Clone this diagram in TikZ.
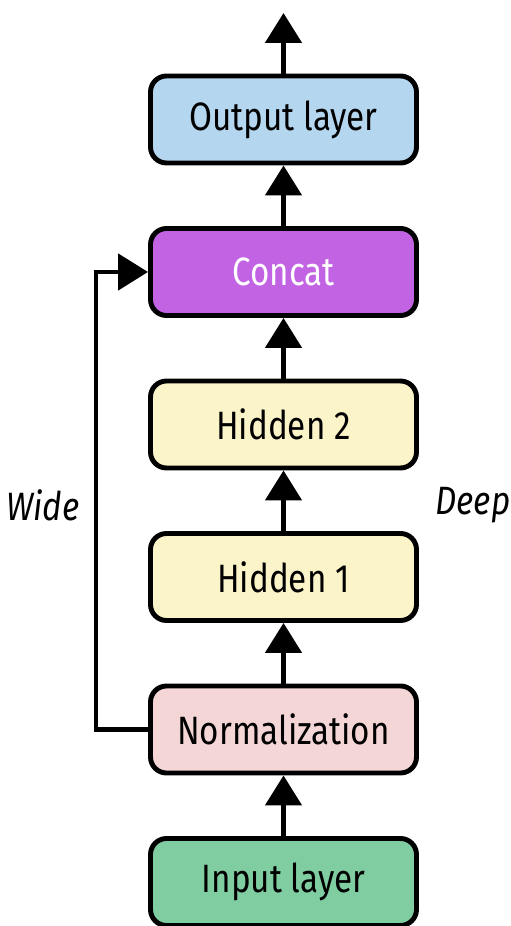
\documentclass[tikz,border=0pt]{standalone}
\usepackage{fontspec}
\setmainfont{Fira Sans}[FakeStretch=0.84]
\usetikzlibrary{arrows.meta}

\definecolor{outblue}{HTML}{B5D6EF}
\definecolor{concatpurple}{HTML}{C263E4}
\definecolor{hiddenyellow}{HTML}{FBF4C9}
\definecolor{normpink}{HTML}{F5D6D6}
\definecolor{inputgreen}{HTML}{80CDA2}

\tikzset{
  layer/.style={draw=black, line width=2.8pt, rounded corners=0.32cm,
    minimum width=5.32cm, minimum height=1.74cm,
    font=\fontsize{22.5}{26}\selectfont},
  arr/.style={line width=2.8pt,
    -{Triangle[width=0.72cm,length=0.6cm]}},
  side/.style={font=\fontsize{22.5}{26}\selectfont\itshape}
}

\begin{document}
\begin{tikzpicture}

\useasboundingbox
(0,0)
rectangle
(10.22,18.52);

% Layers
\node[layer, fill=inputgreen]
(input)
at (5.67,0.88)
{Input layer};

\node[layer, fill=normpink]
(norm)
at (5.67,3.93)
{Normalization};

\node[layer, fill=hiddenyellow]
(hidden1)
at (5.67,6.98)
{Hidden 1};

\node[layer, fill=hiddenyellow]
(hidden2)
at (5.67,10.03)
{Hidden 2};

\node[layer, fill=concatpurple, text=white]
(concat)
at (5.67,13.08)
{Concat};

\node[layer, fill=outblue]
(output)
at (5.67,16.13)
{Output layer};

\coordinate
(top)
at (5.67,18.26);

% Deep path
\draw[arr]
(input)
--
(norm);

\draw[arr]
(norm)
--
(hidden1);

\draw[arr]
(hidden1)
--
(hidden2);

\draw[arr]
(hidden2)
--
(concat);

\draw[arr]
(concat)
--
(output);

\draw[arr]
(output)
--
(top);

% Wide path
\coordinate
(bend)
at (1.92,3.93);

\draw[arr]
(norm.west)
--
(bend)
|-
(concat.west);

% Labels
\node[side]
(wide)
at (0.86,8.42)
{Wide};

\node[side]
(deep)
at (9.46,8.42)
{Deep};

\end{tikzpicture}
\end{document}
